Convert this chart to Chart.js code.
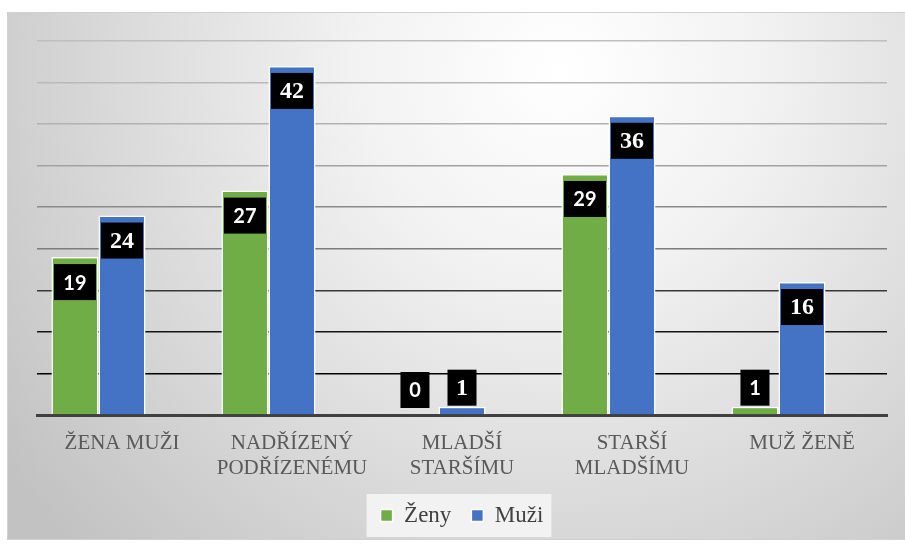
<!DOCTYPE html>
<html>
<head>
<meta charset="utf-8">
<script src="https://cdn.jsdelivr.net/npm/chart.js@4"></script>
<style>
html,body{margin:0;padding:0;background:#fff;}
#wrap{position:relative;width:905px;height:547px;}
</style>
</head>
<body>
<div id="wrap"><canvas id="c" width="905" height="547"></canvas></div>
<script>
const categories = [["ŽENA MUŽI"], ["NADŘÍZENÝ", "PODŘÍZENÉMU"], ["MLADŠÍ", "STARŠÍMU"], ["STARŠÍ", "MLADŠÍMU"], ["MUŽ ŽENĚ"]];
const zeny = [19, 27, 0, 29, 1];
const muzi = [24, 42, 1, 36, 16];
const emptySeries = [null, null, null, null, null];
const seriesNames = ["Ženy", "Muži"];
const yMax = 45;
const yStep = 5;

const SERIF = '"Liberation Serif", "Times New Roman", serif';

const bgPlugin = {
  id: 'bg',
  beforeDraw(chart) {
    const ctx = chart.ctx;
    ctx.save();
    ctx.fillStyle = '#ffffff';
    ctx.fillRect(0, 0, chart.width, chart.height);
    const g = ctx.createRadialGradient(560, 70, 0, 560, 70, 680);
    g.addColorStop(0, '#ffffff');
    g.addColorStop(0.3, '#f2f2f2');
    g.addColorStop(1, '#c2c2c2');
    ctx.fillStyle = g;
    ctx.fillRect(7, 12, 898, 528);
    ctx.strokeStyle = '#d0d0d0';
    ctx.lineWidth = 1;
    ctx.strokeRect(7.5, 12.5, 898, 527);
    const lg = chart.legend;
    if (lg && lg.legendHitBoxes && lg.legendHitBoxes.length) {
      const hb = lg.legendHitBoxes;
      const last = hb[hb.length - 1];
      const l = hb[0].left - 14, r = last.left + last.width + 8;
      const t = hb[0].top - 10, b = hb[0].top + hb[0].height + 10;
      ctx.fillStyle = '#f2f2f2';
      ctx.fillRect(l, t, r - l, b - t);
    }
    ctx.restore();
  }
};

const labelPlugin = {
  id: 'boxLabels',
  afterDatasetsDraw(chart) {
    const ctx = chart.ctx;
    const base = chart.scales.y.getPixelForValue(0);
    chart.data.datasets.forEach((ds, di) => {
      if (di > 1) return;
      const meta = chart.getDatasetMeta(di);
      meta.data.forEach((bar, i) => {
        const v = ds.data[i];
        if (v === null) return;
        const txt = String(v);
        ctx.save();
        ctx.font = di === 0 ? 'bold 20px Lato, "Open Sans", sans-serif' : 'bold 24px ' + SERIF;
        const w = txt.length > 1 ? 42 : 29;
        const h = 36;
        let top;
        if (base - bar.y > h + 14) {
          top = bar.y + 7;
        } else {
          top = Math.min(bar.y - 1, base - 7) - h;
        }
        ctx.fillStyle = '#000000';
        ctx.fillRect(bar.x - w / 2, top, w, h);
        ctx.fillStyle = '#ffffff';
        ctx.textAlign = 'center';
        ctx.textBaseline = 'middle';
        ctx.fillText(txt, bar.x, top + h / 2 + 1);
        ctx.restore();
      });
    });
  }
};

function gridColor(ctx) {
  const v = ctx.tick ? ctx.tick.value : 0;
  const cols = {0:'#404040',5:'#000000',10:'#141414',15:'#383838',20:'#7c7c7c',25:'#8a8a8a',30:'#a2a2a2',35:'#b2b2b2',40:'#b9b9b9',45:'#bebebe'};
  return cols[v] || '#999999';
}

function draw() {
  new Chart(document.getElementById('c'), {
    type: 'bar',
    data: {
      labels: categories,
      datasets: [
        { label: seriesNames[0], data: zeny, backgroundColor: '#70ad47', borderColor: '#ffffff', borderWidth: 1.5 },
        { label: seriesNames[1], data: muzi, backgroundColor: '#4472c4', borderColor: '#ffffff', borderWidth: 1.5 },
        { label: '', data: emptySeries, backgroundColor: 'rgba(0,0,0,0)', borderWidth: 0 }
      ]
    },
    options: {
      responsive: false,
      animation: false,
      devicePixelRatio: 1,
      datasets: { bar: { categoryPercentage: 0.83, barPercentage: 1.0 } },
      layout: { padding: { left: 37, right: 18, top: 41, bottom: 10 } },
      plugins: {
        tooltip: { enabled: false },
        legend: {
          position: 'bottom',
          labels: {
            boxWidth: 12, boxHeight: 12, padding: 20,
            color: '#404040',
            font: { family: SERIF, size: 23 },
            generateLabels(chart) {
              return chart.data.datasets.slice(0, 2).map((d, i) => ({
                text: d.label, fillStyle: d.backgroundColor, strokeStyle: '#ffffff', lineWidth: 1.5,
                fontColor: '#404040', datasetIndex: i, hidden: false
              }));
            }
          }
        }
      },
      scales: {
        x: {
          grid: { display: false, drawTicks: false },
          border: { display: true, color: '#404040', width: 3 },
          ticks: {
            color: '#595959', padding: 16,
            font: { family: SERIF, size: 21, lineHeight: 1.2 },
            maxRotation: 0, autoSkip: false
          },
          afterFit(scale) { scale.height = 69; }
        },
        y: {
          min: 0, max: yMax,
          ticks: { display: false, stepSize: yStep },
          border: { display: false },
          grid: { color: gridColor, lineWidth: 1.5, drawTicks: false }
        }
      }
    },
    plugins: [bgPlugin, labelPlugin]
  });
}

Promise.all([
  document.fonts.load('21px "Liberation Serif"'),
  document.fonts.load('bold 24px "Liberation Serif"'),
  document.fonts.load('bold 20px Lato')
]).then(draw, draw);
</script>
</body>
</html>
